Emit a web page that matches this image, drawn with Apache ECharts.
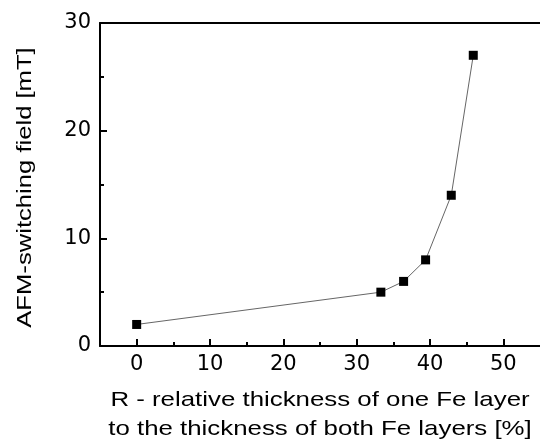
<!DOCTYPE html>
<html>
<head>
<meta charset="utf-8">
<script src="https://cdn.jsdelivr.net/npm/echarts@6/dist/echarts.min.js"></script>
<style>
html,body{margin:0;padding:0;background:#fff;}
#chart{width:540px;height:445px;}
</style>
</head>
<body>
<div id="chart"></div>
<script>
// Data
const xValues = [0, 33.3, 36.4, 39.4, 42.9, 45.9];
const yValues = [2, 5, 6, 8, 14, 27];
const xMajorTicks = [0, 10, 20, 30, 40, 50];
const xMinorTicks = [-5, 5, 15, 25, 35, 45];
const xTitleLine1 = 'R - relative thickness of one Fe layer';
const xTitleLine2 = 'to the thickness of both Fe layers [%]';
const yTitle = 'AFM-switching field [mT]';

const points = xValues.map((x, i) => [x, yValues[i]]);
const FONT = '"Liberation Sans", Arial, sans-serif';
const TICKFONT = '"DejaVu Sans", sans-serif';

const chart = echarts.init(document.getElementById('chart'));
chart.setOption({
  animation: false,
  backgroundColor: '#fff',
  grid: { left: 100, top: 23, width: 440.6, bottom: 99, containLabel: false },
  xAxis: [{
    type: 'value', min: -5, max: 55,
    position: 'bottom',
    axisLine: { show: true, onZero: false, lineStyle: { color: '#000', width: 2 } },
    axisTick: { show: true, inside: true, length: 7, customValues: xMajorTicks,
      lineStyle: { color: '#000', width: 2 } },
    axisLabel: { color: '#000', fontFamily: TICKFONT, fontSize: 21, margin: 8,
      customValues: xMajorTicks },
    splitLine: { show: false }
  }, {
    type: 'value', min: -5, max: 55, position: 'top',
    axisLine: { show: true, onZero: false, lineStyle: { color: '#000', width: 2 } },
    axisTick: { show: false }, axisLabel: { show: false }, splitLine: { show: false }
  }, {
    type: 'value', min: -5, max: 55, position: 'bottom', offset: 0,
    axisLine: { show: false, onZero: false },
    axisTick: { show: true, inside: true, length: 4, customValues: xMinorTicks,
      lineStyle: { color: '#000', width: 2 } },
    axisLabel: { show: false }, splitLine: { show: false }
  }],
  yAxis: {
    type: 'value', min: 0, max: 30, interval: 10,
    axisLine: { show: true, onZero: false, lineStyle: { color: '#000', width: 2 } },
    axisTick: { show: true, inside: true, length: 7, lineStyle: { color: '#000', width: 2 } },
    minorTick: { show: true, splitNumber: 2, length: 4, lineStyle: { color: '#000', width: 2 } },
    axisLabel: { color: '#000', fontFamily: TICKFONT, fontSize: 21, margin: 9 },
    splitLine: { show: false }
  },
  series: [{
    type: 'line',
    xAxisIndex: 0,
    data: points,
    symbol: 'rect',
    symbolSize: 9,
    itemStyle: { color: '#000' },
    lineStyle: { color: '#666', width: 1 }
  }],
  graphic: [
    { type: 'text', x: 320, y: 400.5, scaleX: 1.23,
      style: { text: xTitleLine1, font: '21px ' + FONT, fill: '#000',
        textAlign: 'center', textVerticalAlign: 'middle', align: 'center', verticalAlign: 'middle' } },
    { type: 'text', x: 320, y: 429.5, scaleX: 1.23,
      style: { text: xTitleLine2, font: '21px ' + FONT, fill: '#000',
        textAlign: 'center', textVerticalAlign: 'middle', align: 'center', verticalAlign: 'middle' } },
    { type: 'text', x: 25, y: 187.5, scaleX: 1.22, rotation: Math.PI / 2,
      style: { text: yTitle, font: '21px ' + FONT, fill: '#000',
        textAlign: 'center', textVerticalAlign: 'middle', align: 'center', verticalAlign: 'middle' } }
  ]
});
</script>
</body>
</html>
